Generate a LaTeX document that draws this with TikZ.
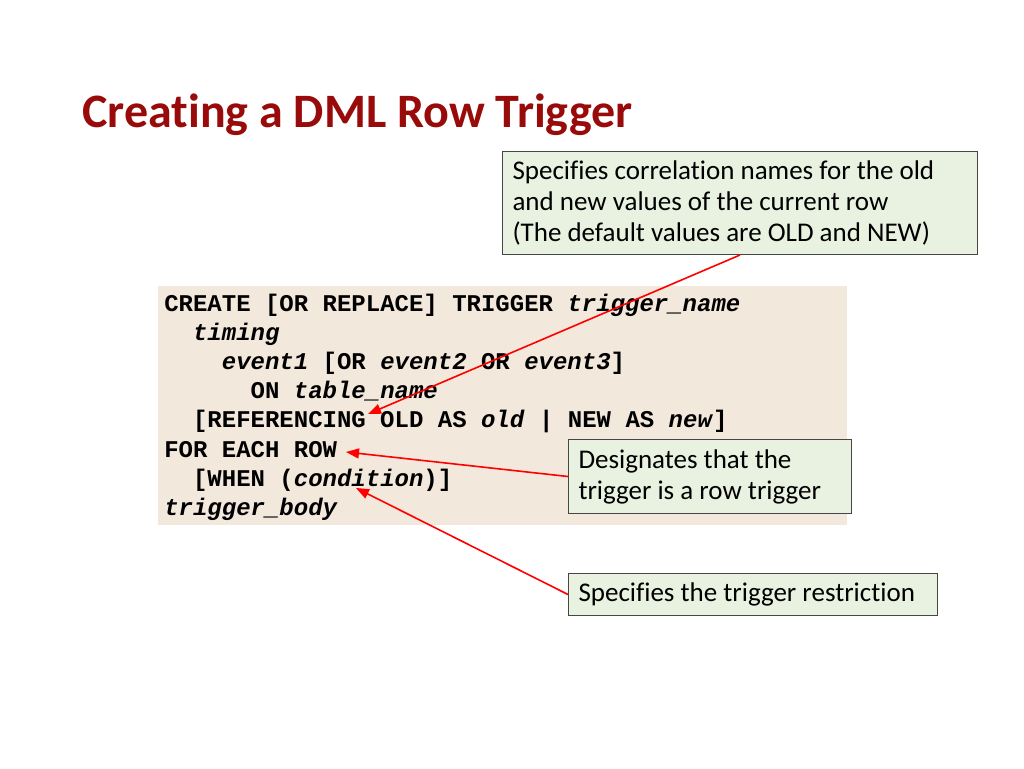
\documentclass[tikz,border=0pt]{standalone}
\usepackage{fontspec}
\setmainfont{Carlito}[Ligatures=NoCommon]
\newfontfamily\codefont{Liberation Mono}
\usepackage{tikz}
\usetikzlibrary{arrows.meta,positioning}
\definecolor{titlered}{RGB}{153,10,10}
\definecolor{codebg}{RGB}{243,232,220}
\definecolor{notebg}{RGB}{233,241,225}
\definecolor{noteline}{RGB}{70,70,70}
\tikzset{every picture/.style={line width=0.5pt}}
\tikzstyle{code}=[fill=codebg,anchor=north west,inner xsep=6pt,inner ysep=0pt,
  align=left,font=\codefont\bfseries\fontsize{24}{29.1}\selectfont,
  execute at begin node={\spaceskip=0.6em\relax}]
\tikzstyle{note}=[draw=noteline,fill=notebg,line width=1pt,anchor=north west,
  inner xsep=10pt,inner ysep=0pt,align=left,font=\fontsize{27}{31}\selectfont,
  execute at begin node={\spaceskip=0.226em\relax}]
\newcommand{\ph}[1]{\textit{#1}}
\begin{document}
\begin{tikzpicture}[x=1pt,y=-1pt]
\useasboundingbox (0,0) rectangle (1024,768);
\node[anchor=base west,text=titlered,font=\bfseries\fontsize{48}{54}\selectfont,inner sep=0pt]
  (title) at (82,127) {Creating a DML Row Trigger};
\node[code,minimum width=689pt,minimum height=236pt,text width=677pt] (body) at (158,289)
{CREATE [OR REPLACE] TRIGGER \ph{trigger\_name}\\
~~\ph{timing}\\
~~~~\ph{event1} [OR \ph{event2} OR \ph{event3}]\\
~~~~~~ON \ph{table\_name}\\
~~[REFERENCING OLD AS \ph{old} | NEW AS \ph{new}]\\
FOR EACH ROW\\
~~[WHEN (\ph{condition})]\\
\ph{trigger\_body}};
\fill[codebg] (158,286) rectangle (847,290);
\node[note,minimum width=475pt,minimum height=103pt,text width=455pt] (corr) at (502,151)
{Specifies correlation names for the old\\
and new values of the current row\\
(The default values are OLD and NEW)};
\node[note,minimum width=283pt,minimum height=74pt,text width=263pt] (rowtrg) at (568,439)
{Designates that the\\
trigger is a row trigger};
\node[note,minimum width=369pt,minimum height=42pt,text width=349pt] (restr) at (568,573)
{Specifies the trigger restriction};
\coordinate (refing) at (368,414);
\coordinate (feach) at (346,452);
\coordinate (cond) at (356,488);
\path[-{Triangle[length=13pt,width=10pt]},red,line width=1.6pt]
(corr.south) edge (refing)
(rowtrg.west) edge (feach)
(restr.west) edge (cond);
\end{tikzpicture}
\end{document}
